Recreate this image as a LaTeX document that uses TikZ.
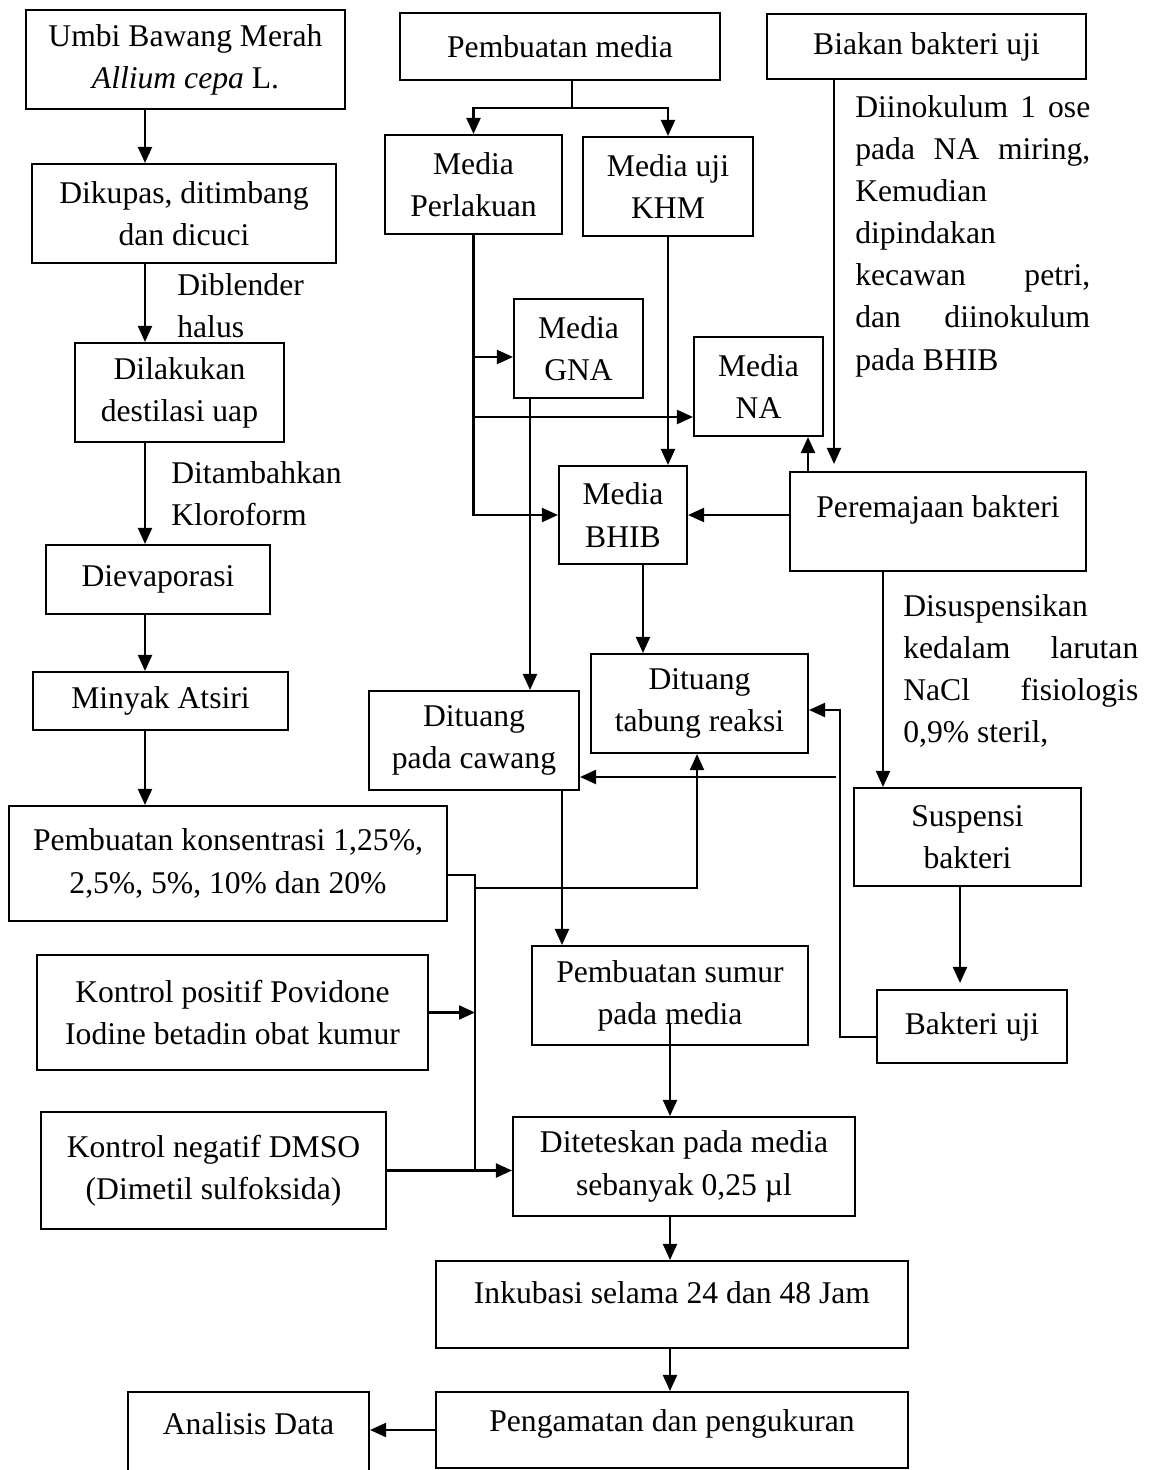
\documentclass[tikz,border=0pt]{standalone}
\usepackage{fontspec}
\setmainfont{Liberation Serif}
\usetikzlibrary{arrows.meta,calc}
\newcommand{\jl}[1]{\makebox[4.7cm][s]{#1}}

\begin{document}
\begin{tikzpicture}[x=0.02cm,y=-0.02cm,
  box/.style={draw,line width=1.2pt,align=center,inner sep=1pt,font=\fontsize{18}{24}\selectfont},
  note/.style={align=left,inner sep=0pt,font=\fontsize{18}{24}\selectfont},
  arr/.style={-{Triangle[length=0.32cm,width=0.28cm]},line width=1.2pt},
  ln/.style={line width=1.2pt}
]
\useasboundingbox (0,0) rectangle (1151,1470);

% left column
\node[box,minimum width=6.38cm,minimum height=1.98cm] (umbi) at (185.5,59.5) {Umbi Bawang Merah\\\textit{Allium cepa} L.};
\node[box,minimum width=6.08cm,minimum height=1.98cm] (kupas) at (184,213.5) {Dikupas, ditimbang\\dan dicuci};
\node[box,minimum width=4.18cm,minimum height=1.98cm] (destilasi) at (179.5,392.5) {Dilakukan\\destilasi uap};
\node[box,minimum width=4.48cm,minimum height=1.38cm] (evap) at (158,579.5) {Dievaporasi};
\node[box,minimum width=5.1cm,minimum height=1.16cm] (minyak) at (160.5,701) {Minyak Atsiri};
\node[box,minimum width=8.76cm,minimum height=2.3cm] (konsentrasi) at (228,863.5) {Pembuatan konsentrasi 1,25\%,\\2,5\%, 5\%, 10\% dan 20\%};
\node[box,minimum width=7.82cm,minimum height=2.3cm] (kpos) at (232.5,1012.5) {Kontrol positif Povidone\\Iodine betadin obat kumur};
\node[box,minimum width=6.9cm,minimum height=2.34cm] (kneg) at (213.5,1170.5) {Kontrol negatif DMSO\\(Dimetil sulfoksida)};

% media
\node[box,minimum width=6.4cm,minimum height=1.34cm] (media) at (560,46.5) {Pembuatan media};
\node[box,minimum width=3.54cm,minimum height=1.98cm] (perlakuan) at (473.5,184.5) {Media\\Perlakuan};
\node[box,minimum width=3.4cm,minimum height=1.98cm] (khm) at (668,186.5) {Media uji\\KHM};
\node[box,minimum width=2.58cm,minimum height=1.98cm] (gna) at (578.5,348.5) {Media\\GNA};
\node[box,minimum width=2.58cm,minimum height=1.98cm] (na) at (758.5,386.5) {Media\\NA};
\node[box,minimum width=2.56cm,minimum height=1.96cm] (bhib) at (623,515) {Media\\BHIB};
\node[box,minimum width=4.34cm,minimum height=1.98cm] (tabung) at (699.5,703.5) {Dituang\\tabung reaksi};
\node[box,minimum width=4.2cm,minimum height=1.98cm] (cawang) at (474,740.5) {Dituang\\pada cawang};

% bakteri
\node[box,minimum width=6.38cm,minimum height=1.3cm] (biakan) at (926.5,46.5) {Biakan bakteri uji};
\node[box,minimum width=5.92cm,minimum height=1.98cm,text height=0.7em,text depth=1.2em] (remaja) at (938,521.5) {Peremajaan bakteri};
\node[box,minimum width=4.54cm,minimum height=1.96cm] (suspensi) at (967.5,837) {Suspensi\\bakteri};
\node[box,minimum width=3.8cm,minimum height=1.46cm] (ujibak) at (972,1026.5) {Bakteri uji};

% bawah
\node[box,minimum width=5.52cm,minimum height=1.98cm] (sumur) at (670,995.5) {Pembuatan sumur\\pada media};
\node[box,minimum width=6.84cm,minimum height=1.98cm] (tetes) at (684,1166.5) {Diteteskan pada media\\sebanyak 0,25 µl};
\node[box,minimum width=9.44cm,minimum height=1.74cm,text height=0.7em,text depth=0.82em] (inkubasi) at (672,1304.5) {Inkubasi selama 24 dan 48 Jam};
\node[box,minimum width=9.44cm,minimum height=1.52cm,text height=0.7em,text depth=0.48em] (amat) at (672,1430) {Pengamatan dan pengukuran};
\node[box,minimum width=4.82cm,minimum height=1.76cm,text height=0.7em,text depth=0.86em] (analisis) at (248.5,1436) {Analisis Data};

% keterangan
\node[note,anchor=west] (blend) at (177,306) {Diblender\\halus};
\node[note,anchor=west] (kloro) at (171,494) {Ditambahkan\\Kloroform};
\node[note,anchor=west] (inok) at (855,236) {\jl{Diinokulum 1 ose}\\\jl{pada NA miring,}\\Kemudian\\dipindakan\\\jl{kecawan petri,}\\\jl{dan diinokulum}\\pada BHIB};
\node[note,anchor=west] (susp) at (903,671) {Disuspensikan\\\jl{kedalam larutan}\\\jl{NaCl fisiologis}\\0,9\% steril,};

\coordinate (lx) at (145,0);
\coordinate (split) at (572,108);
\coordinate (gx) at (530,0);
\coordinate (nx) at (808,0);
\coordinate (bx) at (834,0);
\coordinate (tx) at (643,0);
\coordinate (sx) at (883,0);
\coordinate (ux) at (960,0);
\coordinate (rx) at (840,0);
\coordinate (cx) at (562,0);
\coordinate (kx) at (475,0);
\coordinate (mx) at (670,0);
\coordinate (ax) at (697,888);
\coordinate (cwIn) at (836,777);
\coordinate (gnaIn) at ([yshift=-0.17cm]gna.west);
\coordinate (naIn) at ([yshift=-0.61cm]na.west);
\coordinate (tabIn) at ([yshift=-0.13cm]tabung.east);
\coordinate (ujOut) at ([yshift=-0.21cm]ujibak.west);
\coordinate (kout) at ([yshift=-0.23cm]konsentrasi.east);

\draw[arr] (umbi.south -| lx) -- (kupas.north -| lx);
\draw[arr] (kupas.south -| lx) -- (destilasi.north -| lx);
\draw[arr] (destilasi.south -| lx) -- (evap.north -| lx);
\draw[arr] (evap.south -| lx) -- (minyak.north -| lx);
\draw[arr] (minyak.south -| lx) -- (konsentrasi.north -| lx);

\draw[ln] (media.south -| split) -- (split);
\draw[arr] (split) -| (perlakuan.north);
\draw[arr] (split) -| (khm.north);
\draw[arr] (perlakuan.south) |- (bhib.west);
\draw[arr] (perlakuan.south |- gnaIn) -- (gnaIn);
\draw[arr] (perlakuan.south |- naIn) -- (naIn);
\draw[arr] (khm.south) -- (khm.south |- bhib.north);
\draw[arr] (gna.south -| gx) -- (cawang.north -| gx);
\draw[arr] (remaja.west |- bhib.east) -- (bhib.east);
\draw[arr] (remaja.north -| nx) -- (na.south -| nx);
\draw[arr,shorten >=0.14cm] (biakan.south -| bx) -- (remaja.north -| bx);
\draw[arr] (bhib.south -| tx) -- (tabung.north -| tx);
\draw[arr] (remaja.south -| sx) -- (suspensi.north -| sx);
\draw[arr,shorten >=0.12cm] (suspensi.south -| ux) -- (ujibak.north -| ux);
\draw[arr] (ujOut) -| (rx |- tabIn) -- (tabIn);
\draw[arr] (cwIn) -- (cawang.east |- cwIn);

\draw[ln] (kout) -| (kx |- kneg.east);
\draw[arr] (kneg.east) -- (tetes.west |- kneg.east);
\draw[arr] (kpos.east) -- (kx |- kpos.east);
\draw[arr] (kx |- ax) -| (tabung.south -| ax);

\draw[arr] (cawang.south -| cx) -- (sumur.north -| cx);
\draw[arr] ([yshift=0.44cm]sumur.south) -- (tetes.north -| sumur.south);
\draw[arr] (tetes.south -| mx) -- (inkubasi.north -| mx);
\draw[arr] (inkubasi.south -| mx) -- (amat.north -| mx);
\draw[arr] (amat.west) -- (analisis.east |- amat.west);
\end{tikzpicture}
\end{document}
